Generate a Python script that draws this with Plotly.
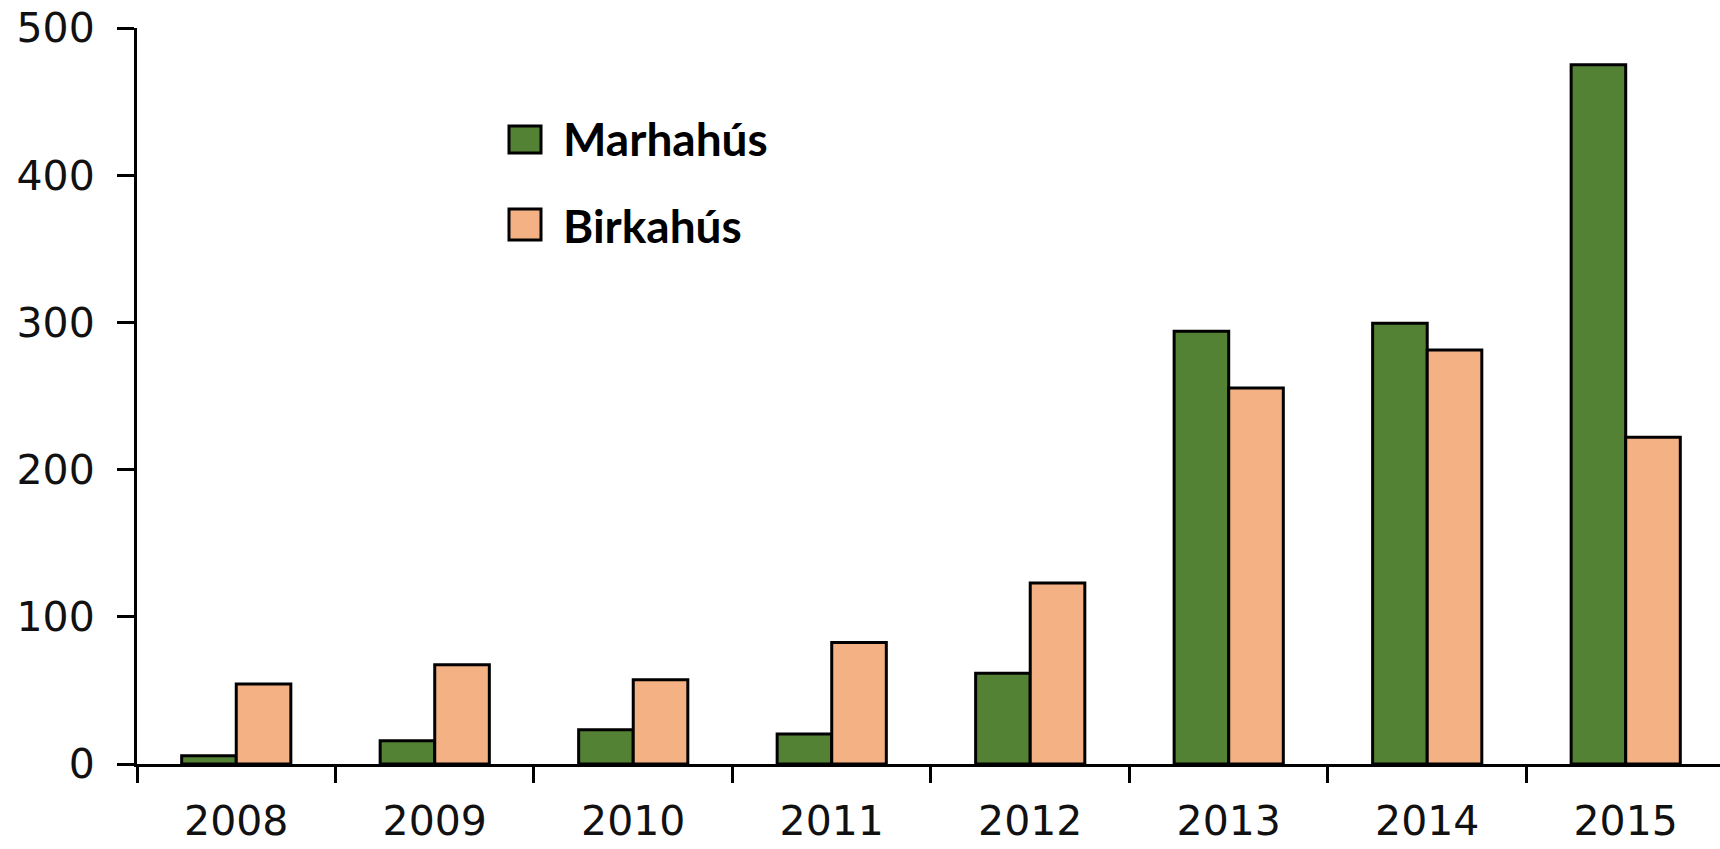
import plotly.graph_objects as go

years = ["2008", "2009", "2010", "2011", "2012", "2013", "2014", "2015"]
marhahus = [5.6, 15.8, 23.3, 20.4, 61.6, 294, 299.5, 475]
birkahus = [54.3, 67.4, 57.2, 82.6, 123, 255.5, 281.3, 222]
series_names = ["Marhahús", "Birkahús"]
series_colors = ["#548235", "#F4B183"]
y_ticks = [0, 100, 200, 300, 400, 500]

W, H = 1720, 849
L, R, T, B = 137, 0, 28, 85
pw, ph = W - L - R, H - T - B

def px_x(p):
    return (p - L) / pw

def px_y(p):
    return (H - B - p) / ph

fig = go.Figure()
for name, vals, col in zip(series_names, [marhahus, birkahus], series_colors):
    fig.add_trace(go.Bar(
        x=years, y=vals, name=name,
        marker=dict(color=col, line=dict(color="#000000", width=3)),
        showlegend=False,
    ))

# custom legend (large squares + bold labels)
legend_rows = [(125, 154, 138), (208, 241, 225)]
for (y0, y1, yc), name, col in zip(legend_rows, series_names, series_colors):
    fig.add_shape(type="rect", xref="paper", yref="paper",
                  x0=px_x(509), x1=px_x(541), y0=px_y(y1 - 1), y1=px_y(y0 + 1),
                  fillcolor=col, line=dict(color="#000000", width=3), layer="above")
    fig.add_annotation(xref="paper", yref="paper", x=px_x(561), y=px_y(yc),
                       xanchor="left", yanchor="middle", showarrow=False,
                       text="<b>" + name + "</b>",
                       font=dict(family="Lato", size=46, color="#000000"))

fig.update_layout(
    width=W, height=H,
    margin=dict(l=L, r=R, t=T, b=B, pad=0, autoexpand=False),
    paper_bgcolor="white", plot_bgcolor="white",
    barmode="group", bargap=0.45, bargroupgap=0,
    font=dict(family="DejaVu Sans", size=41, color="#111111"),
)
fig.update_xaxes(
    type="category", range=[-0.5, 7.475], tickson="boundaries",
    automargin=False,
    showline=True, linecolor="#000000", linewidth=3,
    ticks="outside", ticklen=16, tickwidth=3, tickcolor="#000000",
    showgrid=False, ticklabelstandoff=19,
    tickfont=dict(family="DejaVu Sans", size=41, color="#111111"),
)
fig.update_yaxes(
    range=[0, 500], tickvals=y_ticks, ticktext=[str(v) for v in y_ticks],
    automargin=False,
    showline=True, linecolor="#000000", linewidth=3,
    ticks="outside", ticklen=17, tickwidth=3, tickcolor="#000000",
    showgrid=False, zeroline=False, ticklabelstandoff=14,
    tickfont=dict(family="DejaVu Sans", size=41, color="#111111"),
)

fig.write_html(
    "out.html",
    config={"displayModeBar": False},
    post_script="document.body.style.margin='0';document.body.style.overflow='hidden';",
)
